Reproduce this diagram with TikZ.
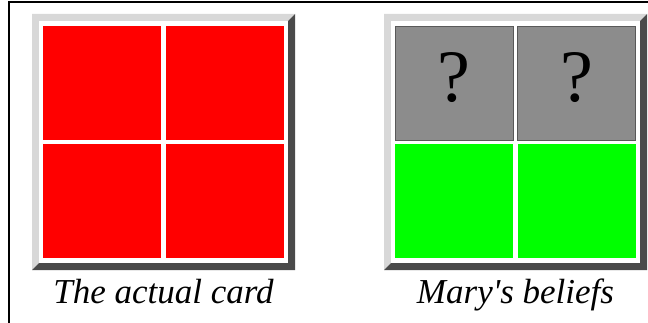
\documentclass[tikz,border=0pt]{standalone}
\usepackage{fontspec}
\setmainfont{Liberation Serif}
\newfontfamily\capfont{Liberation Serif}[Ligatures=Common]
\definecolor{bevlight}{HTML}{D8D8D8}
\definecolor{bevdark}{HTML}{4A4A4A}
\definecolor{cellred}{HTML}{FF0000}
\definecolor{cellgray}{HTML}{8C8C8C}
\definecolor{cellgreen}{HTML}{00FF00}
\begin{document}
\begin{tikzpicture}[x=1pt,y=-1pt,
  cellbox/.style={inner sep=0pt,outer sep=0pt,minimum width=118pt,minimum height=114pt},
  redcell/.style={cellbox,fill=cellred},
  graycell/.style={cellbox,fill=cellgray,draw=black!65,line width=0.8pt},
  greencell/.style={cellbox,fill=cellgreen},
  qmark/.style={anchor=base,inner sep=0pt,font=\fontsize{74}{74}\selectfont},
  caption/.style={anchor=base,inner sep=0pt,font=\capfont\fontsize{35}{35}\selectfont\itshape}]
\useasboundingbox (0,0) rectangle (648,323);
% page frame
\draw[line width=1.2pt,line cap=rect] (9,323) -- (9,2) -- (648,2);
% card frames
\foreach \xo in {32,384}{
  \fill[bevlight] (\xo,14) -- (\xo+263,14) -- (\xo+256,21) -- (\xo+7,21) -- (\xo+7,263) -- (\xo,270) -- cycle;
  \fill[bevdark] (\xo+263,14) -- (\xo+263,270) -- (\xo,270) -- (\xo+7,263) -- (\xo+256,263) -- (\xo+256,21) -- cycle;
  \fill[white] (\xo+7,21) rectangle (\xo+256,263);
}
% actual card
\node[redcell] (a11) at (102.3,83) {};
\node[redcell] (a12) at (224.8,83) {};
\node[redcell] (a21) at (102.3,201) {};
\node[redcell] (a22) at (224.8,201) {};
% Mary's beliefs
\node[graycell] (b11) at (454.3,83) {};
\node[graycell] (b12) at (576.8,83) {};
\node[greencell] (b21) at (454.3,201) {};
\node[greencell] (b22) at (576.8,201) {};
\node[qmark] (q1) at (454.3,101.7) {?};
\node[qmark] (q2) at (576.8,101.7) {?};
% captions
\node[caption] (c1) at (163.5,303.3) {The actual card};
\node[caption] (c2) at (515.5,303.3) {Mary's beliefs};
\end{tikzpicture}
\end{document}
